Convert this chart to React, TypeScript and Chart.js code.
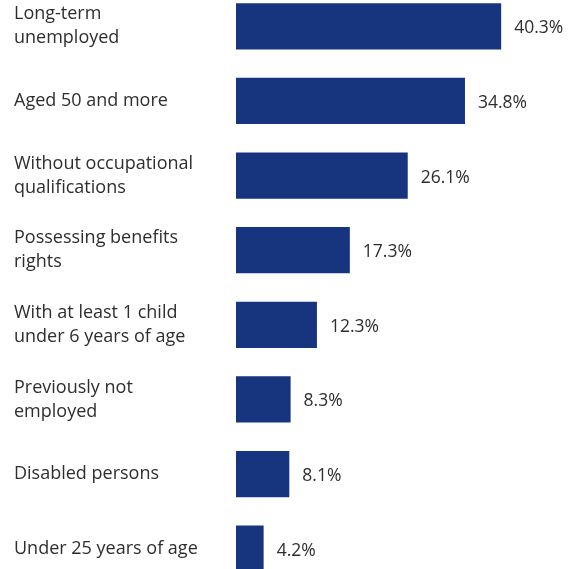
import React, { useEffect, useRef } from "react";
import { Chart, registerables } from "chart.js";

Chart.register(...registerables);

const categories: string[][] = [
  ["Long-term", "unemployed"],
  ["Aged 50 and more"],
  ["Without occupational", "qualifications"],
  ["Possessing benefits", "rights"],
  ["With at least 1 child", "under 6 years of age"],
  ["Previously not", "employed"],
  ["Disabled persons"],
  ["Under 25 years of age"],
];
const values: number[] = [40.3, 34.8, 26.1, 17.3, 12.3, 8.3, 8.1, 4.2];
const valueLabels: string[] = values.map((v) => v.toFixed(1) + "%");

const FONT = "'Open Sans', 'Noto Sans', sans-serif";
const TEXT = "#2e2e2e";
const BAR = "#17357f";

const valueLabelPlugin = {
  id: "valueLabels",
  afterDatasetsDraw(chart: any) {
    const ctx = chart.ctx;
    const meta = chart.getDatasetMeta(0);
    ctx.save();
    ctx.font = `17.5px ${FONT}`;
    ctx.fillStyle = TEXT;
    ctx.textAlign = "left";
    ctx.textBaseline = "middle";
    meta.data.forEach((bar: any, i: number) => {
      ctx.fillText(valueLabels[i], bar.x + 13, bar.y + 2);
    });
    ctx.restore();
  },
};

export default function App() {
  const ref = useRef<HTMLCanvasElement | null>(null);
  useEffect(() => {
    document.body.style.margin = "0";
    document.body.style.overflow = "hidden";
    if (!ref.current) return;
    const chart = new Chart(ref.current, {
      type: "bar",
      data: {
        labels: categories,
        datasets: [
          {
            data: values,
            backgroundColor: BAR,
            barPercentage: 0.62,
            categoryPercentage: 1,
          },
        ],
      },
      plugins: [valueLabelPlugin],
      options: {
        indexAxis: "y",
        animation: false,
        responsive: false,
        maintainAspectRatio: false,
        layout: { padding: { left: 14, right: 12, top: 0, bottom: 0 } },
        plugins: {
          legend: { display: false },
          tooltip: { enabled: false },
        },
        scales: {
          x: {
            display: false,
            min: 0,
            max: 50,
          },
          y: {
            afterFit: (scale: any) => {
              scale.width = 222;
              scale.paddingTop = 0;
              scale.paddingBottom = 0;
            },
            grid: { display: false, drawTicks: false },
            border: { display: false },
            ticks: {
              crossAlign: "far",
              color: TEXT,
              font: { family: FONT, size: 18, lineHeight: 1.33 },
              padding: 0,
            },
          },
        },
      },
    });
    return () => chart.destroy();
  }, []);
  return (
    <div style={{ position: "absolute", left: 0, top: -11, width: 577, height: 597 }}>
      <canvas ref={ref} width={577} height={597} style={{ width: 577, height: 597 }} />
    </div>
  );
}
